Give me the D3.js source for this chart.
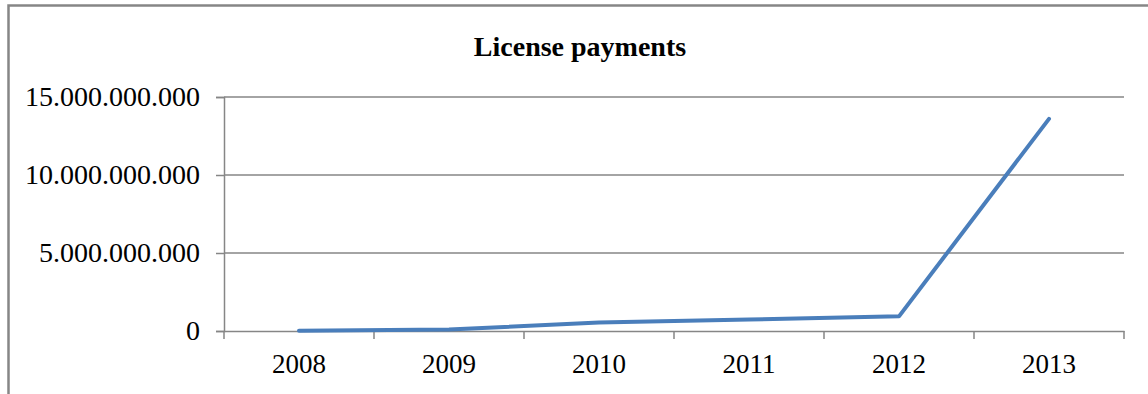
<!DOCTYPE html>
<html>
<head>
<meta charset="utf-8">
<script src="https://cdn.jsdelivr.net/npm/d3@7"></script>
<style>
  html, body { margin: 0; padding: 0; background: #fff; }
  svg { display: block; }
  text { font-family: "Liberation Serif", "Times New Roman", serif; fill: #000; }
</style>
</head>
<body>
<svg width="1148" height="394"></svg>
<script>
const years = ["2008", "2009", "2010", "2011", "2012", "2013"];
const payments = [10e6, 90e6, 540e6, 730e6, 940e6, 13.6e9];
const yTicks = [0, 5e9, 10e9, 15e9];

const svg = d3.select("svg");
const plotL = 224, plotR = 1124, plotT = 97, plotB = 331;
const grey = "#868686";

// outer chart frame (only left + top visible in the picture)
svg.append("rect").attr("x", 8.5).attr("y", 5.5).attr("width", 1160).attr("height", 420)
   .attr("fill", "none").attr("stroke", grey).attr("stroke-width", 2.5);

const x = d3.scaleBand().domain(years).range([plotL, plotR]).padding(0);
const y = d3.scaleLinear().domain([0, 15e9]).range([plotB, plotT]);

const fmt = d3.formatLocale({decimal: ",", thousands: ".", grouping: [3], currency: ["", ""]}).format(",d");

// gridlines
svg.append("g").selectAll("line").data(yTicks.filter(d => d > 0)).enter().append("line")
   .attr("x1", plotL).attr("x2", plotR)
   .attr("y1", d => y(d)).attr("y2", d => y(d))
   .attr("stroke", grey).attr("stroke-width", 1.6);

// y axis
const yAxis = svg.append("g").attr("transform", "translate(" + plotL + ",0)")
   .call(d3.axisLeft(y).tickValues(yTicks).tickSize(8).tickPadding(16).tickFormat(fmt));
yAxis.select(".domain").attr("stroke", grey).attr("stroke-width", 1.5);
yAxis.selectAll(".tick line").attr("stroke", grey).attr("stroke-width", 1.5);
yAxis.selectAll("text").style("font-size", "28px").attr("font-family", null);

// x axis line and category labels
const xAxis = svg.append("g").attr("transform", "translate(0," + plotB + ")")
   .call(d3.axisBottom(x).tickSize(0).tickPadding(23));
xAxis.select(".domain").attr("stroke", grey).attr("stroke-width", 1.6);
xAxis.selectAll("text").style("font-size", "27px").attr("font-family", null);

// boundary ticks between categories
const bounds = years.map(d => x(d)).concat([x.range()[1]]);
svg.append("g").selectAll("line").data(bounds).enter().append("line")
   .attr("x1", d => d).attr("x2", d => d)
   .attr("y1", plotB).attr("y2", plotB + 8)
   .attr("stroke", grey).attr("stroke-width", 1.5);

// series line
const line = d3.line()
   .x((d, i) => x(years[i]) + x.bandwidth() / 2)
   .y(d => y(d));
svg.append("path").datum(payments)
   .attr("d", line)
   .attr("fill", "none")
   .attr("stroke", "#4a7ebb")
   .attr("stroke-width", 4)
   .attr("stroke-linejoin", "round")
   .attr("stroke-linecap", "round");

// title
svg.append("text")
   .attr("x", 580).attr("y", 56)
   .attr("text-anchor", "middle")
   .style("font-size", "28px").style("font-weight", "bold")
   .text("License payments");
</script>
</body>
</html>
